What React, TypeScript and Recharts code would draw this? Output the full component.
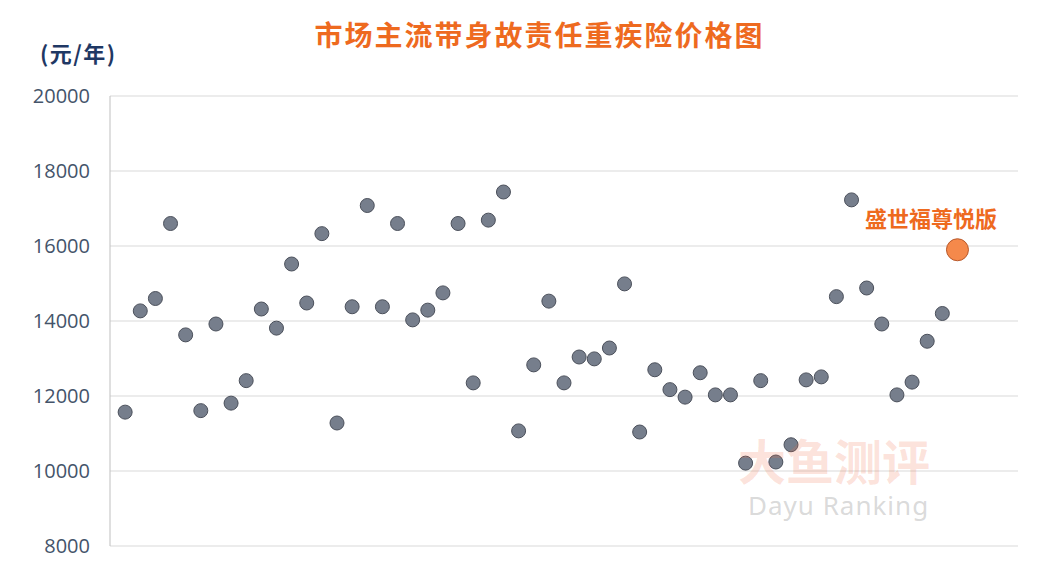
import { ScatterChart, Scatter, XAxis, YAxis, CartesianGrid, LabelList } from "recharts";

// products in the order they appear on the chart (x = 1..55)
const prices = [
  11570, 14270, 14600, 16600, 13630, 11610, 13920, 11810, 12410, 14320,
  13810, 15520, 14480, 16330, 11280, 14380, 17080, 14380, 16600, 14030,
  14290, 14750, 16600, 12350, 16690, 17440, 11070, 12830, 14530, 12350,
  13040, 12990, 13280, 14990, 11040, 12700, 12170, 11970, 12620, 12030,
  12030, 10210, 12410, 10240, 10700, 12430, 12510, 14650, 17230, 14880,
  13920, 12030, 12370, 13460, 14200
];

const highlightName = "盛世福尊悦版";
const highlightPrice = 15900;

const yTicks = [8000, 10000, 12000, 14000, 16000, 18000, 20000];

const marketData = prices.map((price, i) => ({ idx: i + 1, price }));
const highlightData = [{ idx: prices.length + 1, price: highlightPrice, name: highlightName }];

const GrayDot = (props: any) => (
  <circle cx={props.cx} cy={props.cy} r={7} fill="#767E8C" stroke="#4B505B" strokeWidth={1} />
);

const OrangeDot = (props: any) => (
  <circle cx={props.cx} cy={props.cy} r={11} fill="#F5894B" stroke="#B8582A" strokeWidth={1} />
);

const HighlightLabel = (props: any) => {
  const { x, y, value } = props;
  return (
    <text
      x={x - 22}
      y={y - 28}
      textAnchor="middle"
      dominantBaseline="central"
      fill="#EE6A1F"
      fontSize={22}
      fontWeight="bold"
      fontFamily="'Noto Sans CJK SC', sans-serif"
    >
      {value}
    </text>
  );
};

export default function App() {
  return (
    <div style={{ position: "absolute", left: 0, top: 0, width: 1061, height: 570, background: "#fff" }}>
      <div
        style={{
          position: "absolute",
          left: 2,
          top: 14,
          width: 1075,
          textAlign: "center",
          color: "#EE6A1F",
          fontSize: 28,
          fontWeight: "bold",
          letterSpacing: 2,
          fontFamily: "'Noto Sans CJK SC', sans-serif",
          lineHeight: "40px"
        }}
      >
        市场主流带身故责任重疾险价格图
      </div>
      <div
        style={{
          position: "absolute",
          left: 40,
          top: 37,
          color: "#1F3864",
          fontSize: 22,
          fontWeight: "bold",
          letterSpacing: 1.5,
          fontFamily: "'Noto Sans CJK SC', sans-serif",
          lineHeight: "30px"
        }}
      >
        (元/年)
      </div>
      <ScatterChart width={1061} height={570} margin={{ top: 96, right: 43, bottom: 24, left: 0 }}>
        <CartesianGrid horizontal vertical={false} stroke="#D9D9D9" />
        <XAxis type="number" dataKey="idx" domain={[0, 60]} hide />
        <YAxis
          type="number"
          dataKey="price"
          domain={[8000, 20000]}
          ticks={yTicks}
          width={110}
          axisLine={{ stroke: "#BFBFBF" }}
          tickLine={false}
          tickSize={0}
          tickMargin={20}
          tick={{ fill: "#44546A", fontSize: 20, fontFamily: "'Open Sans', sans-serif" }}
        />
        <Scatter data={marketData} shape={GrayDot} isAnimationActive={false} />
        <Scatter data={highlightData} shape={OrangeDot} isAnimationActive={false}>
          <LabelList dataKey="name" content={HighlightLabel} />
        </Scatter>
      </ScatterChart>
      <div
        style={{
          position: "absolute",
          left: 738,
          top: 434,
          color: "rgba(240, 110, 70, 0.2)",
          fontSize: 48,
          fontWeight: "bold",
          fontFamily: "'Noto Sans CJK SC', sans-serif",
          lineHeight: "50px",
          pointerEvents: "none"
        }}
      >
        大鱼测评
      </div>
      <div
        style={{
          position: "absolute",
          left: 748,
          top: 490,
          color: "rgba(160, 160, 160, 0.4)",
          fontSize: 26,
          letterSpacing: 1,
          fontFamily: "'Noto Sans', sans-serif",
          lineHeight: "30px",
          pointerEvents: "none"
        }}
      >
        Dayu Ranking
      </div>
    </div>
  );
}
